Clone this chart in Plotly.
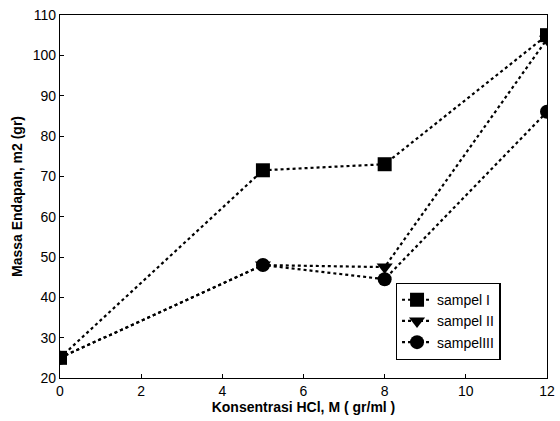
import plotly.graph_objects as go

x = [0, 5, 8, 12]
sampel1 = [25, 71.5, 73, 105]
sampel2 = [25, 48, 47.5, 104]
sampel3 = [25, 48, 44.5, 86]
names = ["sampel I", "sampel II", "sampelIII"]
symbols = ["square", "triangle-down", "circle"]

fig = go.Figure()
for ys, nm, sym in zip([sampel1, sampel2, sampel3], names, symbols):
    fig.add_trace(go.Scatter(
        x=x, y=ys, name=nm, mode="lines+markers",
        line=dict(color="black", width=2.2, dash="dot"),
        marker=dict(symbol=sym, size=14, color="black"),
    ))

axis_common = dict(
    showgrid=False, zeroline=False, showline=True, linecolor="black", linewidth=1.3,
    mirror=True, ticks="inside", ticklen=4, tickcolor="black", automargin=False,
    tickfont=dict(family="Liberation Sans, Arial", size=14, color="black"),
)
fig.update_xaxes(range=[0, 12], dtick=2, **axis_common,
                 title=dict(text="<b>Konsentrasi HCl, M ( gr/ml )</b>", standoff=2,
                            font=dict(family="Liberation Sans, Arial", size=14, color="black")))
fig.update_yaxes(range=[20, 110], dtick=10, **axis_common,
                 title=dict(text="<b>Massa Endapan, m2 (gr)</b>", standoff=6,
                            font=dict(family="Liberation Sans, Arial", size=14, color="black")))

fig.update_layout(
    width=560, height=421,
    margin=dict(l=60, r=13, t=15, b=43),
    paper_bgcolor="white", plot_bgcolor="white",
    showlegend=True,
    legend=dict(x=0.905, y=0.05, xanchor="right", yanchor="bottom",
                bordercolor="black", borderwidth=1.3, bgcolor="white",
                font=dict(family="Liberation Sans, Arial", size=14, color="black"),
                tracegroupgap=0, itemwidth=30),
)
fig.write_html("out.html", config={"displayModeBar": False},
               post_script="document.body.style.margin='0';document.body.style.padding='0';")
